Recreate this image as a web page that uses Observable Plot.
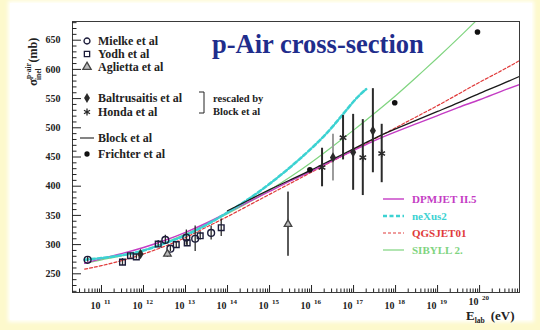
<!DOCTYPE html>
<html><head><meta charset="utf-8">
<script src="https://cdn.jsdelivr.net/npm/d3@7"></script>
<script src="https://cdn.jsdelivr.net/npm/@observablehq/plot@0.6"></script>
<style>
html,body{margin:0;padding:0;background:#fdf9cc;}
#wrap{position:relative;width:540px;height:330px;overflow:hidden;background:#fdf9cc;}
#panel{position:absolute;left:10px;top:3px;width:522px;height:317px;background:#fff;box-shadow:0 0 4px 2px #fff;}
#chart{position:absolute;left:0;top:0;}
</style></head><body>
<div id="wrap"><div id="panel"></div><div id="chart"></div></div>
<script>
// ---------- data (x = log10 E_lab [eV], y = sigma_inel p-air [mb]) ----------
const mielkeLogE  = [10.67, 12.52, 12.64, 13.02, 13.23, 13.61];
const mielkeSigma = [274, 308, 293, 312, 310, 320];
const mielkeErr   = [4, 8, 5, 13, 22, 12];

const yodhLogE  = [11.50, 11.69, 11.83, 12.35, 12.78, 13.04, 13.35, 13.85];
const yodhSigma = [270, 281, 279, 301, 300, 303, 315, 329];
const yodhErr   = [6, 4, 4, 6, 5, 6, 7, 15];

const agliettaLogE  = [12.57, 15.44];
const agliettaSigma = [284, 335];
const agliettaErr   = [6, 55];

const baltLogE  = [11.93, 16.51, 16.99, 17.46];
const baltSigma = [284, 449, 458, 495];
const baltErr   = [0, 40, 65, 72];

const hondaLogE  = [16.25, 16.75, 17.22, 17.67];
const hondaSigma = [432, 483, 449, 456];
const hondaErr   = [33, 38, 65, 50];

const frichterLogE  = [15.96, 17.98, 19.95];
const frichterSigma = [428, 543, 664];

// model curves
const blockLogE  = [14, 14.5, 15, 15.5, 16, 16.5, 17, 17.5, 18, 18.5, 19, 19.5, 20, 20.5, 20.95];
const blockSigma = [358, 376, 394, 411, 428, 446, 464, 482, 498, 513, 528, 543, 559, 574, 588];

const dpmLogE  = [10.6, 11, 11.5, 12, 12.5, 13, 13.5, 14, 14.5, 15, 15.5, 16, 16.5, 17, 17.5, 18, 18.5, 19, 19.5, 20, 20.5, 20.95];
const dpmSigma = [268, 276, 285, 295, 307, 321, 337, 355, 373, 391, 409, 426, 444, 461, 478, 493, 507, 521, 535, 548, 562, 574];

const nexusLogE  = [10.6, 11, 11.5, 12, 12.5, 13, 13.5, 14, 14.5, 15, 15.5, 16, 16.5, 17, 17.3];
const nexusSigma = [274, 277, 282, 290, 302, 316, 334, 355, 378, 404, 433, 465, 502, 545, 566];

const qgsLogE  = [10.6, 11, 11.5, 12, 12.5, 13, 13.5, 14, 14.5, 15, 15.5, 16, 16.5, 17, 17.5, 18, 18.5, 19, 19.5, 20, 20.5, 20.95];
const qgsSigma = [258, 264, 273, 284, 297, 312, 330, 348, 367, 386, 405, 424, 443, 462, 481, 500, 519, 538, 558, 578, 597, 615];

const sibyllLogE  = [10.6, 11, 11.5, 12, 12.5, 13, 13.5, 14, 14.5, 15, 15.5, 16, 16.5, 17, 17.5, 18, 18.5, 19, 19.5, 20, 20.1];
const sibyllSigma = [268, 274, 281, 290, 303, 318, 335, 353, 372, 393, 416, 441, 468, 496, 525, 555, 587, 620, 654, 689, 696];

// axis ticks
const xDecades = [11, 12, 13, 14, 15, 16, 17, 18, 19, 20];
const yMajor = [250, 300, 350, 400, 450, 500, 550, 600, 650];

const dataLegend = ["Mielke et al", "Yodh et al", "Aglietta et al", "Baltrusaitis et al", "Honda et al", "Block et al", "Frichter et al"];
const modelLegend = ["DPMJET II.5", "neXus2", "QGSJET01", "SIBYLL 2."];

// ---------- helpers ----------
const rows = (xs, ys, es) => xs.map((x, i) => ({x, y: ys[i], e: es ? es[i] : 0}));
const W = 540, H = 330, mL = 72, mR = 21, mT = 21, mB = 38;
const fw = W - mL - mR, fh = H - mT - mB;
const xDom = [10.31, 20.95], yDom = [218, 682];
const xMinor = [];
for (let k = 10; k <= 20; k++) for (let m = 2; m <= 9; m++) { const v = k + Math.log10(m); if (v > xDom[0] && v < xDom[1]) xMinor.push(v); }
const yMinor = d3.range(220, 681, 10).filter(v => v % 50 !== 0);

const mielke = rows(mielkeLogE, mielkeSigma, mielkeErr);
const yodh = rows(yodhLogE, yodhSigma, yodhErr);
const aglietta = rows(agliettaLogE, agliettaSigma, agliettaErr);
const balt = rows(baltLogE, baltSigma, baltErr);
const honda = rows(hondaLogE, hondaSigma, hondaErr);
const frichter = rows(frichterLogE, frichterSigma);
const errs = [...mielke, ...yodh, ...aglietta, ...balt, ...honda].filter(d => d.e > 0);

const C = {dpm: "#c43cc4", nexus: "#3cd2d2", qgs: "#e03a3a", sib: "#7fd47f", block: "#1a1a1a", pt: "#1c1c3a"};
const lineOpt = {x: "x", y: "y", curve: "natural", clip: true};

const plot = Plot.plot({
  width: W, height: H, marginLeft: mL, marginRight: mR, marginTop: mT, marginBottom: mB,
  style: {background: "transparent", fontFamily: "'Liberation Serif', serif", overflow: "visible"},
  x: {domain: xDom, axis: null},
  y: {domain: yDom, axis: null},
  marks: [
    Plot.line(rows(sibyllLogE, sibyllSigma), {...lineOpt, stroke: C.sib, strokeWidth: 1.2}),
    Plot.line(rows(qgsLogE, qgsSigma), {...lineOpt, stroke: C.qgs, strokeWidth: 1.2, strokeDasharray: "3,2"}),
    Plot.line(rows(dpmLogE, dpmSigma), {...lineOpt, stroke: C.dpm, strokeWidth: 1.4}),
    Plot.line(rows(nexusLogE, nexusSigma), {...lineOpt, stroke: C.nexus, strokeWidth: 2.6, strokeDasharray: "4,2.5"}),
    Plot.line(rows(blockLogE, blockSigma), {...lineOpt, stroke: C.block, strokeWidth: 1.3}),
    Plot.ruleX(errs, {x: "x", y1: d => d.y - d.e, y2: d => d.y + d.e, stroke: d => (d.x > 16.4 && d.x < 16.6) ? "#9a9a9a" : (d.x > 15 && d.x < 16 ? "#5a5a5a" : "#2a2a2a"), strokeWidth: d => d.e > 25 ? 2 : 1.3}),
    Plot.dot(mielke, {x: "x", y: "y", symbol: "circle", r: 3.4, stroke: C.pt, strokeWidth: 1.4, fill: "none"}),
    Plot.dot(yodh, {x: "x", y: "y", symbol: "square2", r: 3.6, stroke: C.pt, strokeWidth: 1.4, fill: "none"}),
    Plot.dot(aglietta, {x: "x", y: "y", symbol: "triangle2", r: 3.6, stroke: "#444", strokeWidth: 1.3, fill: "#bbb"}),
    Plot.dot(balt, {x: "x", y: "y", symbol: "diamond", r: 3.2, fill: "#2a2a2a"}),
    Plot.dot(honda, {x: "x", y: "y", symbol: "asterisk", r: 3.6, stroke: "#2a2a2a", strokeWidth: 1.6}),
    Plot.dot(frichter, {x: "x", y: "y", r: 2.8, fill: "#111"}),
    Plot.frame({stroke: "#3a3a3a", strokeWidth: 1}),
    Plot.tickX(xDecades, {x: d => d, stroke: "#222", insetTop: fh - 7}),
    Plot.tickX(xMinor, {x: d => d, stroke: "#222", insetTop: fh - 3.5}),
    Plot.tickY(yMajor, {y: d => d, stroke: "#222", insetRight: fw - 9}),
    Plot.tickY(yMinor, {y: d => d, stroke: "#222", insetRight: fw - 4.5}),
    Plot.text(xDecades.slice(0, -1), {x: d => d, text: () => "10", frameAnchor: "bottom", textAnchor: "end", dx: -1, dy: 9, lineAnchor: "top", fontSize: 10, fontWeight: "bold", fill: "#222"}),
    Plot.text(xDecades.slice(-1), {x: d => d, text: () => "10", frameAnchor: "bottom", textAnchor: "end", dx: -1, dy: 5, lineAnchor: "top", fontSize: 10, fontWeight: "bold", fill: "#222"}),
    Plot.text(yMajor, {y: d => d, text: d => String(d), frameAnchor: "left", textAnchor: "end", dx: -12, fontSize: 10, fontWeight: "bold", fill: "#222"})
  ]
});
document.getElementById("chart").appendChild(plot);

// ---------- annotations (legends, titles, exponents) ----------
const svg = d3.select(plot);
const sx = v => mL + (v - xDom[0]) / (xDom[1] - xDom[0]) * fw;
const ann = svg.append("g").attr("font-family", "'Liberation Serif', serif").attr("font-weight", "bold").attr("text-anchor", "start");

xDecades.forEach((k, i) => {
  ann.append("text").attr("x", sx(k) + 3).attr("y", H - mB + (i === xDecades.length - 1 ? 8 : 12)).attr("font-size", 7).attr("fill", "#222").text(String(k));
});

// title
ann.append("text").attr("x", 212).attr("y", 53).attr("font-size", 26.5).attr("fill", "#1f2d8c").text("p-Air cross-section");

// y-axis title
const yt = ann.append("text").attr("transform", "translate(37,86) rotate(-90)").attr("fill", "#222").attr("font-size", 12);
yt.append("tspan").attr("font-size", 13).text("σ");
yt.append("tspan").attr("font-size", 7.5).attr("dy", -6).text("p-air");
yt.append("tspan").attr("font-size", 7.5).attr("dx", -17).attr("dy", 10).text("inel");
yt.append("tspan").attr("dy", -4).attr("dx", 6).text("(mb)");

// x-axis title
const xt = ann.append("text").attr("x", 466).attr("y", 320).attr("fill", "#222").attr("font-size", 13);
xt.append("tspan").text("E");
xt.append("tspan").attr("font-size", 7.5).attr("dy", 3).text("lab");
xt.append("tspan").attr("dy", -3).attr("dx", 6).text("(eV)");

// left legend
const legY = [41, 54, 67, 98, 112, 138, 154];
const legSym = [
  {t: d3.symbolCircle, s: 28, fill: "none", stroke: C.pt},
  {t: d3.symbolSquare, s: 28, fill: "none", stroke: C.pt},
  {t: d3.symbolTriangle, s: 30, fill: "#bbb", stroke: "#444"},
  {t: d3.symbolDiamond, s: 30, fill: "#2a2a2a", stroke: "none"},
  {t: d3.symbolAsterisk, s: 34, fill: "none", stroke: "#2a2a2a"},
  null,
  {t: d3.symbolCircle, s: 22, fill: "#111", stroke: "none"}
];
dataLegend.forEach((lab, i) => {
  const y = legY[i];
  const s = legSym[i];
  if (s) ann.append("path").attr("d", d3.symbol(s.t, s.s)()).attr("transform", `translate(87,${y})`).attr("fill", s.fill).attr("stroke", s.stroke).attr("stroke-width", 1.3);
  else ann.append("line").attr("x1", 80).attr("x2", 94).attr("y1", y).attr("y2", y).attr("stroke", "#666").attr("stroke-width", 1.6);
  ann.append("text").attr("x", 98).attr("y", y).attr("dy", "0.35em").attr("font-size", 12).attr("fill", "#222").text(lab);
});
ann.append("path").attr("d", "M199,92 H204 V113 H199").attr("fill", "none").attr("stroke", "#222").attr("stroke-width", 1);
ann.append("text").attr("x", 213).attr("y", 98).attr("dy", "0.35em").attr("font-size", 10.5).attr("fill", "#222").text("rescaled by");
ann.append("text").attr("x", 213).attr("y", 111).attr("dy", "0.35em").attr("font-size", 10.5).attr("fill", "#222").text("Block et al");

// right legend (models)
const modY = [199, 216, 233, 250];
const modStyle = [
  {c: C.dpm, w: 1.4, d: null},
  {c: C.nexus, w: 2.6, d: "4,2.5"},
  {c: C.qgs, w: 1.2, d: "3,2"},
  {c: C.sib, w: 1.2, d: null}
];
modelLegend.forEach((lab, i) => {
  const y = modY[i], st = modStyle[i];
  ann.append("line").attr("x1", 383).attr("x2", 404).attr("y1", y).attr("y2", y).attr("stroke", st.c).attr("stroke-width", st.w).attr("stroke-dasharray", st.d);
  ann.append("text").attr("x", 412).attr("y", y).attr("dy", "0.35em").attr("font-size", 11).attr("fill", st.c).text(lab);
});
</script>
</body></html>
